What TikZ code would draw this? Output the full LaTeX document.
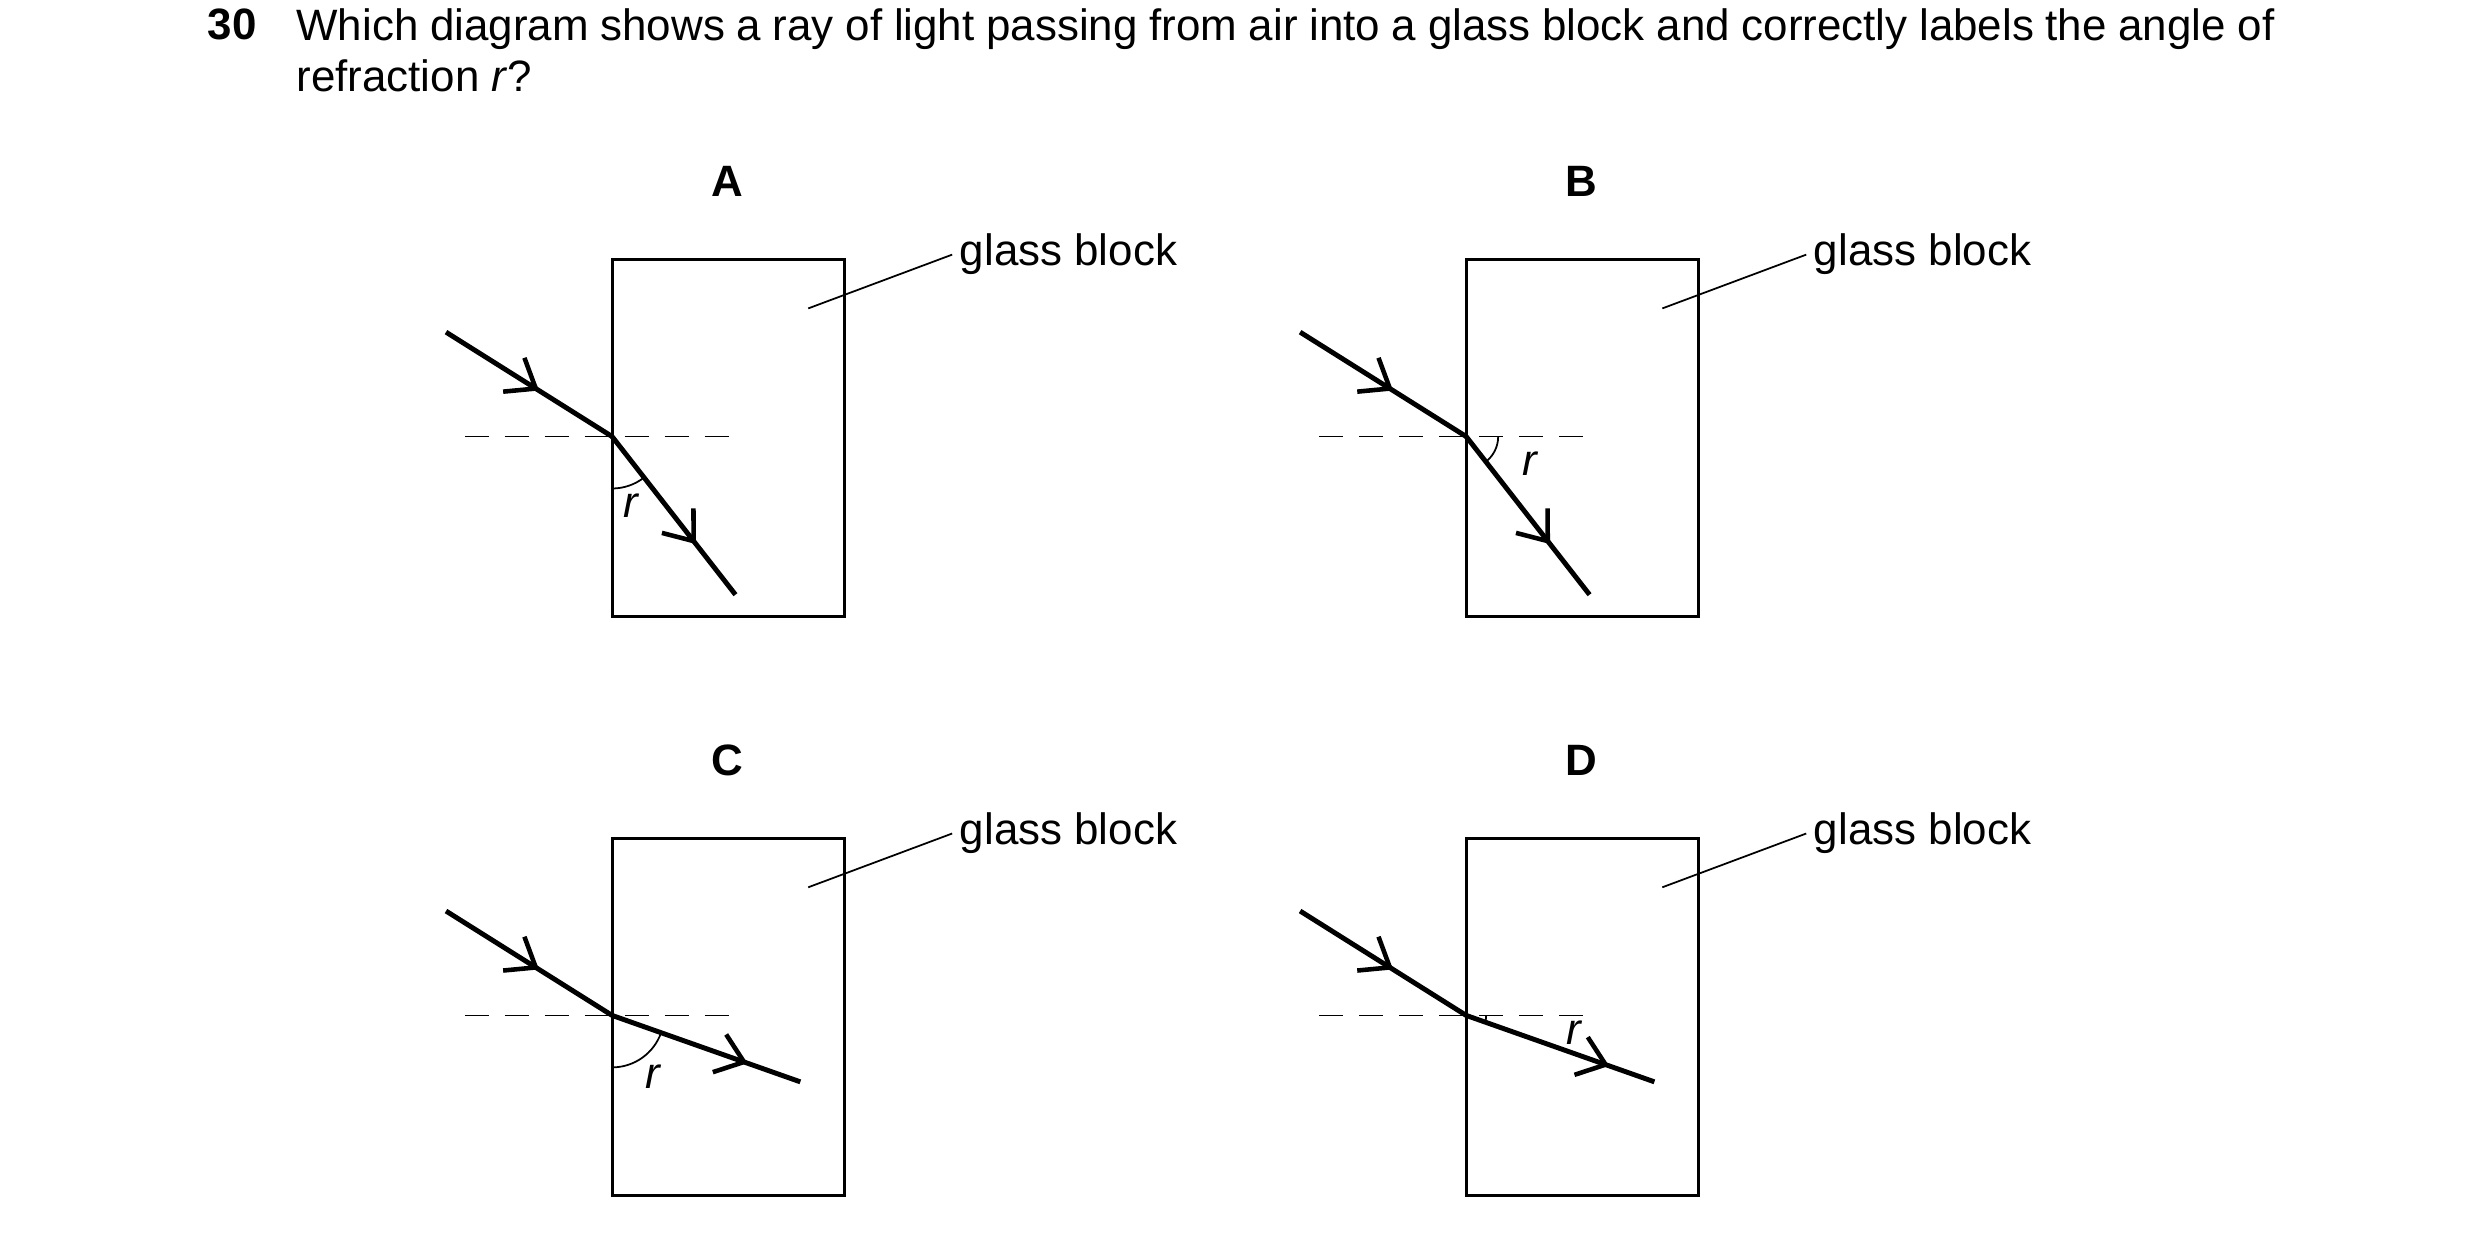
\documentclass[tikz,border=0pt]{standalone}
\usepackage{fontspec}
\setmainfont{Liberation Sans}
\usetikzlibrary{arrows.meta,decorations.markings,angles}

\tikzset{
  block/.style={line width=0.85pt},
  ray/.style={line width=1.4pt},
  normal/.style={line width=0.5pt, dash pattern=on 2.4mm off 1.6mm},
  leader/.style={line width=0.5pt},
  midarrow/.style={postaction={decorate, decoration={markings,
    mark=at position #1 with {\arrow{Straight Barb[length=2.6mm,width=4mm,line width=1.3pt]}}}}},
  big/.style={font=\fontsize{12.5}{14.4}\selectfont}
}

% one panel: #1 x, #2 y, #3 letter, #4 ray end, #5 mark pos, #6 angle, #7 radius, #8 label pos
\newcommand{\panel}[8]{
\begin{scope}[shift={(#1,#2)}]
	\node[font=\fontsize{12.5}{14.4}\selectfont\bfseries] (lab#3) at (73,-49) {#3};
	\draw[block] (0,0) rectangle (147,226);
	\coordinate (in#3) at (-105,46);
	\coordinate (hit#3) at (0,112);
	\coordinate (out#3) at #4;
	\coordinate (down#3) at (0,200);
	\coordinate (right#3) at (83,112);
	\coordinate (left#3) at (-93,112);
	\draw[normal] (left#3) -- (right#3);
	\draw[ray, midarrow=0.56] (in#3) -- (hit#3);
	\draw[ray, midarrow=#5] (hit#3) -- (out#3);
	\pic[draw, line width=0.5pt, angle radius=#7] {angle=#6};
	\node[font=\fontsize{12.5}{14.4}\selectfont\itshape] (r#3) at #8 {r};
	\coordinate (lead#3) at (124,31);
	\node[big, anchor=west, inner sep=2pt] (gb#3) at (215,-3) {glass block};
	\draw[leader] (lead#3) -- (gb#3.west);
\end{scope}
}

\begin{document}
\begin{tikzpicture}[x=0.015816cm, y=-0.015816cm]
	\useasboundingbox (0,0) rectangle (1568,782.7);

	\node[big, anchor=north west, inner sep=0pt] (num) at (131,5) {\textbf{30}};
	\node[big, anchor=north west, inner sep=0pt, text width=19.79cm, align=justify] (question) at (187,5)
	  {Which diagram shows a ray of light passing from air into a glass block and correctly labels the angle of refraction \textit{r}?};

	\panel{387}{164}{A}{(78,212)}{0.68}{downA--hitA--outA}{0.52cm}{(12,156)}
	\panel{927}{164}{B}{(78,212)}{0.68}{outB--hitB--rightB}{0.32cm}{(40,129)}
	\panel{387}{530}{C}{(119,154)}{0.72}{downC--hitC--outC}{0.52cm}{(26,151)}
	\panel{927}{530}{D}{(119,154)}{0.76}{outD--hitD--rightD}{0.2cm}{(68,123)}
\end{tikzpicture}
\end{document}
